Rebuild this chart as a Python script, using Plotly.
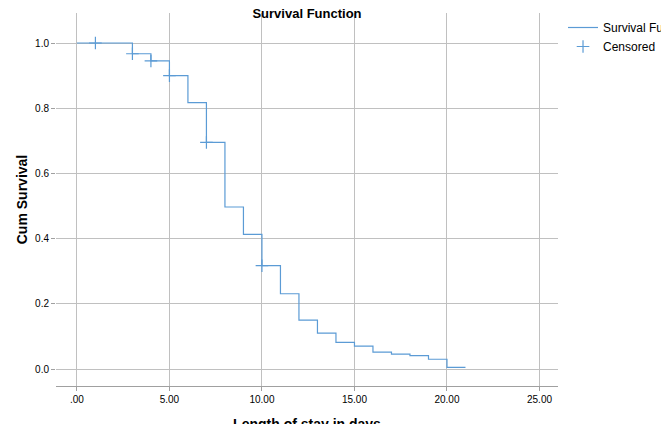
import plotly.graph_objects as go

times = [0, 3, 4, 5, 6, 7, 8, 9, 10, 11, 12, 13, 14, 15, 16, 17, 18, 19, 20, 21]
surv = [1.0, 0.967, 0.945, 0.90, 0.817, 0.695, 0.497, 0.413, 0.317, 0.231, 0.150, 0.110, 0.082, 0.070, 0.052, 0.046, 0.041, 0.030, 0.005, 0.005]
cens_t = [1, 3, 4, 5, 7, 10]
cens_s = [1.0, 0.967, 0.945, 0.90, 0.695, 0.317]
xticks = [0, 5, 10, 15, 20, 25]
xlabels = [".00", "5.00", "10.00", "15.00", "20.00", "25.00"]
yticks = [0, 0.2, 0.4, 0.6, 0.8, 1.0]

col = "#5b9bd5"
fig = go.Figure()
fig.add_trace(go.Scatter(x=times, y=surv, mode="lines", line=dict(shape="hv", color=col, width=1.2),
                         name="Survival Function"))
fig.add_trace(go.Scatter(x=cens_t, y=cens_s, mode="markers",
                         marker=dict(symbol="cross-thin-open", color=col, size=9, line=dict(width=1.2, color=col)),
                         name="Censored"))
fig.update_layout(
    width=669, height=424, plot_bgcolor="white", paper_bgcolor="white",
    margin=dict(l=48, r=119, t=5, b=46, autoexpand=False),
    font=dict(family="Arial, Liberation Sans", size=11, color="black"),
    title=dict(text="<b>Survival Function</b>", x=0.5, xref="paper", xanchor="center", y=0.999, yanchor="top", font=dict(size=13)),
    legend=dict(x=1.01, y=1.0, xanchor="left", yanchor="top", bgcolor="rgba(0,0,0,0)", font=dict(size=12), tracegroupgap=0),
    xaxis=dict(range=[-1.13, 26], tickvals=xticks, ticktext=xlabels, showgrid=True, gridcolor="#c0c0c0",
               zeroline=False, showline=True, linecolor="#a0a0a0", ticks="outside", ticklen=4, tickcolor="#a0a0a0",
               automargin=False,
               title=dict(text="<b>Length of stay in days</b>", font=dict(size=14)), tickfont=dict(size=10)),
    yaxis=dict(range=[-0.052, 1.092], tickvals=yticks, tickformat=".1f", showgrid=True, gridcolor="#c0c0c0",
               zeroline=False, showline=False, ticks="outside", ticklen=4, tickcolor="#a0a0a0", automargin=False,
               title=dict(text="<b>Cum Survival</b>", font=dict(size=14), standoff=4), tickfont=dict(size=10)),
)
fig.write_html("out.html")
